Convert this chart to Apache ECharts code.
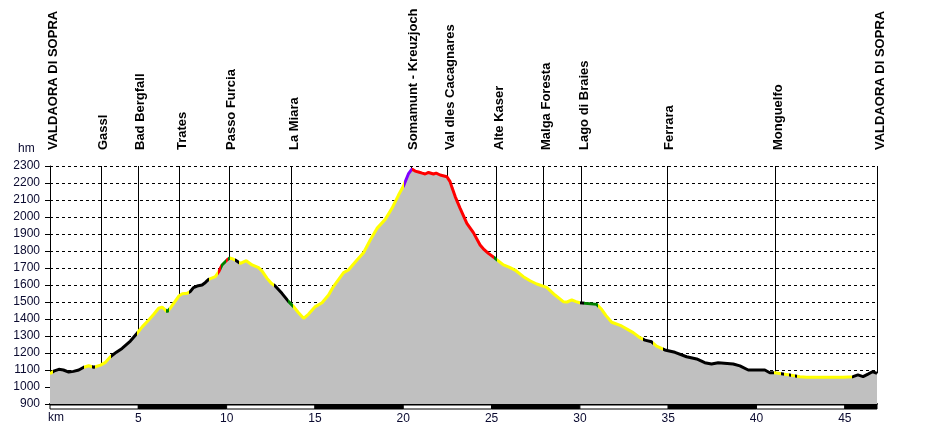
<!DOCTYPE html>
<html>
<head>
<meta charset="utf-8">
<script src="https://cdn.jsdelivr.net/npm/echarts@6/dist/echarts.min.js"></script>
<style>
  html, body { margin: 0; padding: 0; background: #fff; }
  #chart { width: 927px; height: 430px; }
</style>
</head>
<body>
<div id="chart"></div>
<script>
// profilo: km e quota (m)
const km = [0.00, 0.25, 0.50, 0.76, 1.06, 1.33, 1.63, 1.91, 2.19, 2.48, 2.86, 3.14, 3.42, 3.76, 4.08, 4.55, 4.93,
  5.23, 5.59, 5.85, 6.15, 6.35, 6.48, 6.63, 6.82, 7.00, 7.29, 7.49, 7.76, 7.95, 8.12, 8.33, 8.61, 8.80, 8.98,
  9.36, 9.55, 9.74, 10.02, 10.17, 10.31, 10.55, 10.78, 11.11, 11.44, 11.81, 12.02, 12.29, 12.53, 12.75, 13.13,
  13.51, 13.76, 14.07, 14.36, 14.64, 15.02, 15.40, 15.77, 15.98, 16.24, 16.62, 16.90, 17.11, 17.38, 17.75,
  18.13, 18.51, 18.98, 19.36, 19.73, 20.01, 20.29, 20.49, 20.67, 20.86, 21.07, 21.24, 21.43, 21.71, 21.86,
  22.09, 22.47, 22.65, 22.77, 22.94, 23.22, 23.60, 23.97, 24.35, 24.58, 24.82, 25.20, 25.67, 25.99, 26.33,
  26.80, 27.18, 27.56, 28.12, 28.59, 29.06, 29.27, 29.54, 29.78, 30.00, 30.28, 30.95, 31.23, 31.48, 31.80,
  32.36, 33.02, 33.40, 33.68, 34.06, 34.34, 34.81, 35.38, 36.04, 36.61, 37.07, 37.45, 37.83, 38.68, 39.06,
  39.53, 40.47, 40.75, 41.04, 41.88, 42.45, 42.83, 43.77, 44.90, 45.46, 45.74, 46.03, 46.31, 46.56, 46.82];
const quota = [1078, 1095, 1104, 1100, 1088, 1092, 1100, 1116, 1125, 1116, 1129, 1145, 1178, 1205, 1227, 1270, 1316,
  1355, 1394, 1425, 1463, 1470, 1458, 1443, 1465, 1492, 1535, 1548, 1551, 1562, 1585, 1594, 1600, 1615, 1633,
  1649, 1678, 1718, 1747, 1760, 1755, 1743, 1727, 1743, 1718, 1702, 1680, 1639, 1610, 1594, 1551,
  1502, 1476, 1437, 1404, 1429, 1473, 1496, 1541, 1580, 1619, 1673, 1688, 1715, 1747, 1790,
  1865, 1933, 1986, 2051, 2129, 2182, 2253, 2282, 2270, 2265, 2258, 2253, 2262, 2253, 2258,
  2247, 2237, 2208, 2170, 2120, 2051, 1963, 1908, 1835, 1808, 1786, 1757, 1718, 1705, 1688,
  1649, 1625, 1606, 1586, 1541, 1502, 1500, 1512, 1502, 1496, 1492, 1486, 1457, 1420, 1381,
  1359, 1320, 1290, 1276, 1266, 1241, 1218, 1204, 1178, 1165, 1143, 1135, 1143, 1135, 1124,
  1100, 1100, 1084, 1084, 1071, 1060, 1057, 1057, 1057, 1061, 1071, 1061, 1076, 1090, 1080];

// tratti colorati (inizio km) e colore
const tratti = [0, 0.15, 1.9, 2.35, 2.55, 3.45, 4.93, 6.58, 6.72, 7.85, 9.0, 9.5, 9.7, 9.95, 10.1, 10.2, 10.5,
  10.7, 12.7, 13.5, 13.75, 20.05, 20.5, 25.15, 25.3, 30.0, 30.25, 31.0, 33.6, 34.15, 34.72, 41.0, 41.4, 41.55,
  41.85, 41.95, 42.2, 42.3, 45.4, 46.82];
const trattiTipo = ['Y', 'K', 'Y', 'K', 'Y', 'K', 'Y', 'G', 'Y', 'K', 'Y', 'R', 'G', 'R', 'G', 'Y', 'K', 'Y', 'K',
  'G', 'Y', 'P', 'R', 'G', 'Y', 'K', 'G', 'Y', 'K', 'Y', 'K', 'Y', 'K', 'Y', 'K', 'Y', 'K', 'Y', 'K'];
const colori = { Y: '#ffff00', K: '#000000', R: '#ff0000', G: '#008000', P: '#8000ff' };

// località
const luoghi = ['VALDAORA DI SOPRA', 'Gassl', 'Bad Bergfall', 'Trates', 'Passo Furcia', 'La Miara',
  'Somamunt - Kreuzjoch', 'Val dles Cacagnares', 'Alte Kaser', 'Malga Foresta', 'Lago di Braies', 'Ferrara',
  'Monguelfo', 'VALDAORA DI SOPRA'];
const luoghiKm = [0, 2.86, 4.97, 7.31, 10.11, 13.64, 20.42, 22.48, 25.25, 27.93, 30.08, 34.91, 41.05, 46.82];
const luoghiQuota = [1078, 1129, 1316, 1535, 1760, 1490, 2270, 2237, 1757, 1595, 1496, 1215, 1084, 1080];

// scala km sotto l'asse
const scalaKm = [0, 5, 10, 15, 20, 25, 30, 35, 40, 45, 46.82];

const kmMax = 46.82;
const font = '"Liberation Sans", Arial, sans-serif';

const myChart = echarts.init(document.getElementById('chart'));

let pieces = trattiTipo.map((t, i) => {
  let p = { gte: tratti[i], color: colori[t] };
  if (i == trattiTipo.length - 1) p.lte = tratti[i + 1];
  else p.lt = tratti[i + 1];
  return p;
});

let scala = [];
for (let i = 0; i < scalaKm.length - 1; i++) {
  scala.push([scalaKm[i], scalaKm[i + 1], i % 2]);
}

let option = {
  animation: false,
  grid: { left: 50, right: 50, top: 166, bottom: 26 },
  textStyle: { fontFamily: font },
  visualMap: {
    show: false,
    type: 'piecewise',
    seriesIndex: 0,
    dimension: 0,
    pieces: pieces
  },
  xAxis: {
    type: 'value',
    min: 0,
    max: kmMax,
    interval: 5,
    axisLine: { show: true, onZero: false, lineStyle: { color: '#000', width: 2 } },
    axisTick: { show: false },
    splitLine: { show: false },
    axisLabel: {
      margin: 9,
      fontSize: 12,
      fontFamily: font,
      color: '#0a0a30',
      showMaxLabel: false,
      formatter: v => (v > 0 && v % 5 == 0 ? String(v) : '')
    }
  },
  yAxis: {
    type: 'value',
    min: 900,
    max: 2300,
    interval: 100,
    axisLine: { show: true, lineStyle: { color: '#000', width: 1 } },
    axisTick: { show: true, length: 5, lineStyle: { color: '#000' } },
    splitLine: { show: true, lineStyle: { color: '#000', type: [3, 3], width: 1 } },
    axisLabel: { margin: 10, fontSize: 12, fontFamily: font, color: '#0a0a30', formatter: v => String(v) }
  },
  graphic: [
    { type: 'text', left: 18, top: 143, style: { text: 'hm', font: '12px ' + font, fill: '#0a0a30' } },
    { type: 'text', left: 48, top: 412, style: { text: 'km', font: '12px ' + font, fill: '#0a0a30' } }
  ],
  series: [
    {
      type: 'line',
      data: km.map((k, i) => [k, quota[i]]),
      symbol: 'none',
      z: 5,
      lineStyle: { width: 3 },
      areaStyle: { color: '#c0c0c0', opacity: 1 }
    },
    {
      type: 'custom',
      z: 4,
      data: luoghiKm.map((k, i) => [k, luoghiQuota[i]]),
      renderItem(params, api) {
        let top = api.coord([api.value(0), 2300]);
        let bot = api.coord([api.value(0), api.value(1)]);
        let x = Math.round(top[0]) + 0.5;
        return {
          type: 'group',
          children: [
            {
              type: 'line',
              shape: { x1: x, y1: top[1], x2: x, y2: bot[1] },
              style: { stroke: '#000', lineWidth: 1 }
            },
            {
              type: 'text',
              x: top[0] + 3,
              y: top[1] - 16,
              rotation: Math.PI / 2,
              style: {
                text: luoghi[params.dataIndex],
                font: 'bold 13px ' + font,
                fill: '#000',
                align: 'left',
                verticalAlign: 'middle'
              }
            }
          ]
        };
      }
    },
    {
      type: 'custom',
      z: 6,
      clip: false,
      data: scala,
      renderItem(params, api) {
        let p0 = api.coord([api.value(0), 900]);
        let p1 = api.coord([api.value(1), 900]);
        return {
          type: 'rect',
          shape: { x: p0[0], y: p0[1] + 1, width: p1[0] - p0[0], height: 4 },
          style: { fill: api.value(2) == 1 ? '#000' : '#fff', stroke: '#000', lineWidth: 1 }
        };
      }
    }
  ]
};

myChart.setOption(option);
window.addEventListener('resize', () => {
  myChart.resize();
});
</script>
</body>
</html>
